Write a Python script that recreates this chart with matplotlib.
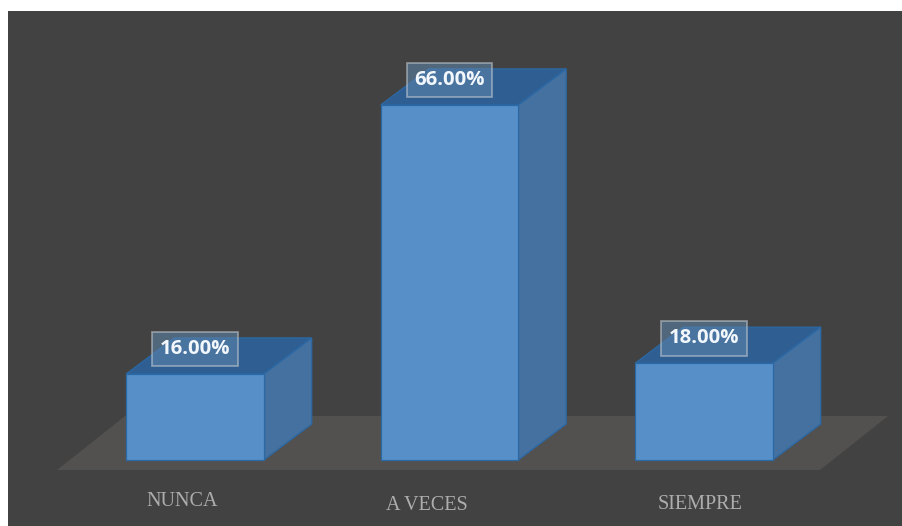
import numpy as np
import matplotlib
matplotlib.use("Agg")
import matplotlib.pyplot as plt
from matplotlib.patches import Polygon

categories = ["NUNCA", "A VECES", "SIEMPRE"]
values = [16.0, 66.0, 18.0]
labels = ["16.00%", "66.00%", "18.00%"]

W, H = 903, 526
BG = "#424242"
FRONT = "#5790c8"
SIDE = "#44719f"
TOP = "#2f5f92"
EDGE = "#2b69a6"

# plot area in pixels, chart units are worked out from it
left, top_px = 8, 11
base_py = 460
px_per_cat = 254.5
px_per_val = 5.38
cat0_px = 195
bar_w = 0.54
dx = 48 / px_per_cat
dy = 36 / px_per_val

def draw_bar(ax, x, v):
    x0, x1 = x - bar_w / 2, x + bar_w / 2
    ax.add_patch(Polygon([(x1, 0), (x1 + dx, dy), (x1 + dx, v + dy), (x1, v)], fc=SIDE, ec=EDGE, lw=0.9, zorder=3))
    ax.add_patch(Polygon([(x0, v), (x1, v), (x1 + dx, v + dy), (x0 + dx, v + dy)], fc=TOP, ec=EDGE, lw=0.9, zorder=3))
    ax.add_patch(Polygon([(x0, 0), (x1, 0), (x1, v), (x0, v)], fc=FRONT, ec=EDGE, lw=0.9, zorder=4))

fig = plt.figure(figsize=(W / 100, H / 100), dpi=100, facecolor="white")
ax = fig.add_axes([left / W, 0, 1 - left / W, 1 - top_px / H])
ax.set_xlim((left - cat0_px) / px_per_cat, (W - cat0_px) / px_per_cat)
ax.set_ylim((base_py - H) / px_per_val, (base_py - top_px) / px_per_val)
ax.axis("off")
ax.add_patch(plt.Rectangle((0, 0), 1, 1, transform=ax.transAxes, fc=BG, ec="none", zorder=0))

# floor
fx0, fx1 = -0.542, 2.456
fy0 = -10 / px_per_val
fdx = 68 / px_per_cat
fdy = 54 / px_per_val
ax.add_patch(Polygon([(fx0, fy0), (fx1, fy0), (fx1 + fdx, fy0 + fdy), (fx0 + fdx, fy0 + fdy)], fc="#525150", ec="none", zorder=1))

xs = np.arange(len(categories))
for x, v, lab in zip(xs, values, labels):
    draw_bar(ax, x, v)
    ax.text(x, v + 4.6, lab, ha="center", va="center", color="#f2f7fb", fontsize=14.6, fontweight="bold",
            family="Open Sans", zorder=6,
            bbox=dict(boxstyle="square,pad=0.36", fc="#5f86ad", alpha=0.55, ec="#c8cdd2", lw=1.3))

# category labels sit a bit off centre in the original
offsets = [-0.05, -0.09, -0.015]
for x, c, off, yy in zip(xs, categories, offsets, [-7.8, -8.4, -8.3]):
    ax.text(x + off, yy, c, ha="center", va="center", color="#adadad", fontsize=14.5, family="Liberation Serif", zorder=6)

fig.savefig("out.png", dpi=100, facecolor="white")
